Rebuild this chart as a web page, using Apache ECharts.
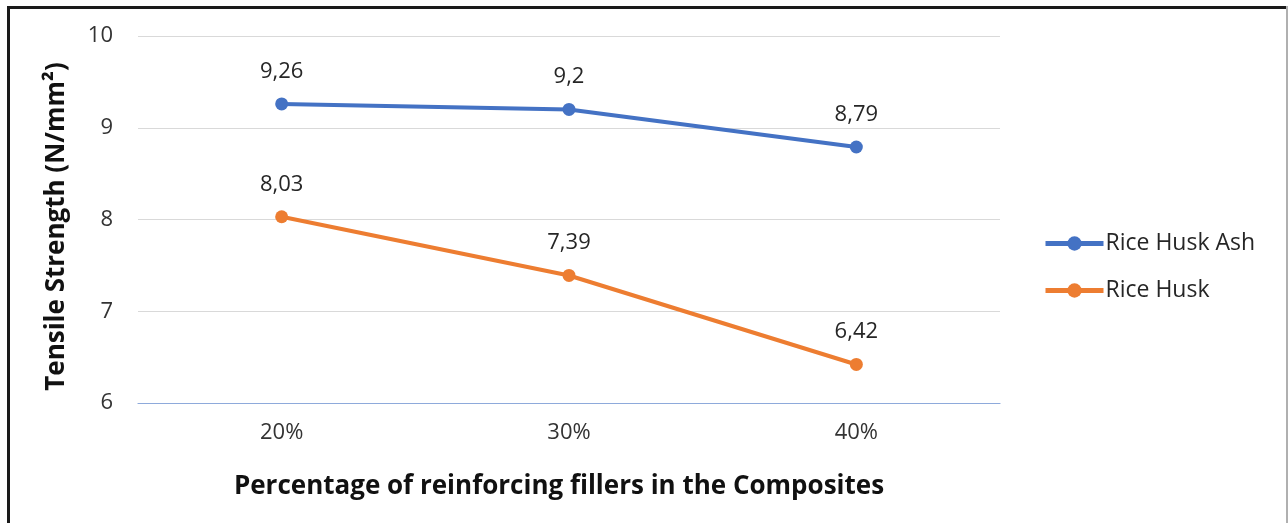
<!DOCTYPE html>
<html><head><meta charset="utf-8">
<script src="https://cdn.jsdelivr.net/npm/echarts@6/dist/echarts.min.js"></script>
<style>
html,body{margin:0;padding:0;background:#fff;}
#wrap{position:relative;width:1288px;height:523px;overflow:hidden;background:#fff;}
#chart{position:absolute;left:0;top:0;width:1288px;height:523px;}
.bl{position:absolute;left:7px;top:6px;width:3px;height:530px;background:#1a1a1a;}
.bt{position:absolute;left:7px;top:6px;width:1290px;height:3px;background:#1a1a1a;}
.br{position:absolute;left:1286px;top:6px;width:2px;height:530px;background:#b0b0b0;}
</style></head>
<body><div id="wrap"><div id="chart"></div><div class="bl"></div><div class="bt"></div><div class="br"></div></div>
<script>
const categories = ['20%', '30%', '40%'];
const riceHuskAsh = [9.26, 9.2, 8.79];
const riceHusk = [8.03, 7.39, 6.42];
const yTicks = [6, 7, 8, 9, 10];

const chart = echarts.init(document.getElementById('chart'));
const font = '"Open Sans", "Noto Sans", sans-serif';
function fmt(v){ return String(v).replace('.', ','); }
const lbl = {show:true, position:'top', distance:15, color:'#262626', fontSize:22, fontFamily:font,
  formatter: p => fmt(p.value)};
chart.setOption({
  animation:false,
  grid:{left:138, right:288, top:36, bottom:120},
  legend:{orient:'vertical', left:1038, top:227, itemWidth:58, itemHeight:18, itemGap:24,
    lineStyle:{width:5},
    textStyle:{fontSize:23, fontFamily:font, color:'#262626', padding:[0,0,0,-3]},
    data:['Rice Husk Ash','Rice Husk']},
  xAxis:{type:'category', data:categories, boundaryGap:true,
    axisLine:{lineStyle:{color:'#8eaadb', width:1.2}}, axisTick:{show:false},
    axisLabel:{fontSize:22, fontFamily:font, color:'#333', margin:19},
    name:'Percentage of reinforcing fillers in the Composites', nameLocation:'middle', nameGap:71,
    nameTextStyle:{fontSize:26, fontWeight:'bold', fontFamily:font, color:'#111', padding:[0,20,0,0]}},
  yAxis:{type:'value', min:yTicks[0], max:yTicks[yTicks.length-1], interval:1,
    axisLine:{show:false}, axisTick:{show:false},
    splitLine:{lineStyle:{color:'#d9d9d9', width:1}},
    axisLabel:{fontSize:22, fontFamily:font, color:'#333', margin:25},
    name:'Tensile Strength (N/mm²)', nameLocation:'middle', nameGap:68,
    nameTextStyle:{fontSize:26, fontWeight:'bold', fontFamily:font, color:'#111', padding:[0,14,0,0]}},
  series:[
    {name:'Rice Husk Ash', type:'line', data:riceHuskAsh, symbol:'circle', symbolSize:13,
      lineStyle:{color:'#4472C4', width:4}, itemStyle:{color:'#4472C4'}, label:lbl},
    {name:'Rice Husk', type:'line', data:riceHusk, symbol:'circle', symbolSize:13,
      lineStyle:{color:'#ED7D31', width:4}, itemStyle:{color:'#ED7D31'}, label:lbl}
  ]
});
</script></body></html>
